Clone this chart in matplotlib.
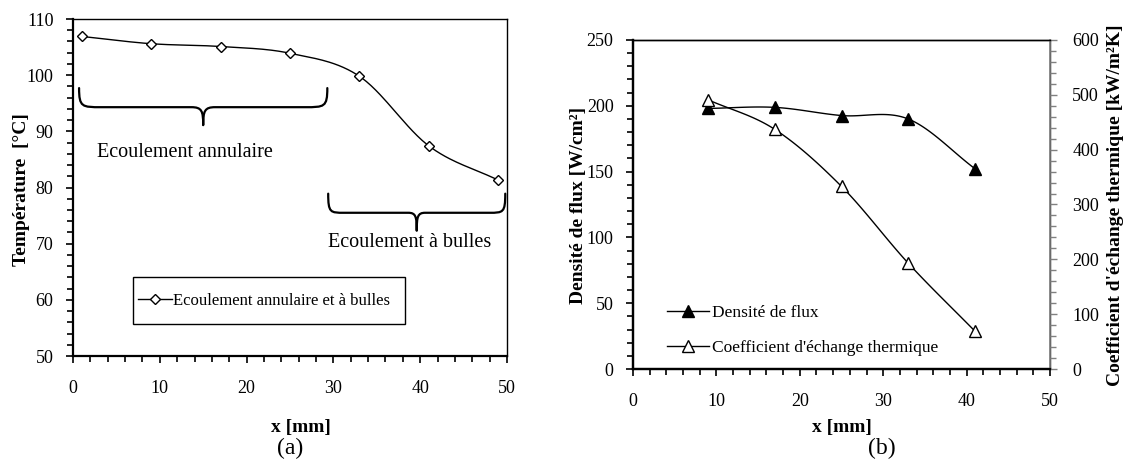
import numpy as np
import matplotlib
matplotlib.use("Agg")
import matplotlib.pyplot as plt
from matplotlib.path import Path
from matplotlib.patches import PathPatch, Rectangle
from matplotlib.ticker import MultipleLocator

plt.rcParams['font.family'] = ['Liberation Serif', 'DejaVu Serif']

# ---- data ----
x_temp = [1, 9, 17, 25, 33, 41, 49]
temperature = [106.9, 105.6, 105.1, 103.9, 99.8, 87.4, 81.3]

x_flux = [9, 17, 25, 33, 41]
flux_density = [198.0, 198.8, 192.6, 190.0, 152.2]
htc = [491, 437, 333, 193, 69]

label_temp = "Ecoulement annulaire et à bulles"
label_flux = "Densité de flux"
label_htc = "Coefficient d'échange thermique"


def smooth(x, y, n=30):
    """Catmull-Rom style smoothing of a polyline (like spreadsheet 'smoothed line')."""
    x = np.asarray(x, float)
    y = np.asarray(y, float)
    P = np.column_stack([x, y])
    P = np.vstack([P[0] - (P[1] - P[0]), P, P[-1] + (P[-1] - P[-2])])
    out = []
    t = np.linspace(0, 1, n, endpoint=False)
    for i in range(1, len(P) - 2):
        p0, p1, p2, p3 = P[i - 1], P[i], P[i + 1], P[i + 2]
        m1 = (p2 - p0) / 6.0
        m2 = (p3 - p1) / 6.0
        b0, b1, b2, b3 = p1, p1 + m1, p2 - m2, p2
        tt = t[:, None]
        seg = ((1 - tt) ** 3) * b0 + 3 * ((1 - tt) ** 2) * tt * b1 + 3 * (1 - tt) * tt ** 2 * b2 + tt ** 3 * b3
        out.append(seg)
    out.append(P[-2][None, :])
    out = np.vstack(out)
    return out[:, 0], out[:, 1]


def brace(ax, x0, x1, ytop, ymid, ytip):
    xm = (x0 + x1) / 2.0
    w = (x1 - x0)
    dx = w * 0.06
    verts = [
        (x0, ytop),
        (x0, ymid), (x0 + dx * 0.2, ymid), (x0 + dx * 1.5, ymid),
        (xm - dx * 0.8, ymid),
        (xm - dx * 0.1, ymid), (xm, ymid - (ymid - ytip) * 0.2), (xm, ytip),
        (xm, ymid - (ymid - ytip) * 0.2), (xm + dx * 0.1, ymid), (xm + dx * 0.8, ymid),
        (x1 - dx * 1.5, ymid),
        (x1 - dx * 0.2, ymid), (x1, ymid), (x1, ytop),
    ]
    codes = [Path.MOVETO,
             Path.CURVE4, Path.CURVE4, Path.CURVE4,
             Path.LINETO,
             Path.CURVE4, Path.CURVE4, Path.CURVE4,
             Path.CURVE4, Path.CURVE4, Path.CURVE4,
             Path.LINETO,
             Path.CURVE4, Path.CURVE4, Path.CURVE4]
    ax.add_patch(PathPatch(Path(verts, codes), fill=False, lw=1.6, ec='black',
                           capstyle='round', joinstyle='round'))


W, H = 1128, 465
fig = plt.figure(figsize=(W / 100, H / 100), dpi=100)

TICK_FS = 13
LABEL_FS = 14


def style_axis(ax, ymaj, ymin):
    ax.set_xlim(0, 50)
    ax.xaxis.set_major_locator(MultipleLocator(10))
    ax.xaxis.set_minor_locator(MultipleLocator(2))
    ax.yaxis.set_major_locator(MultipleLocator(ymaj))
    ax.yaxis.set_minor_locator(MultipleLocator(ymin))
    ax.tick_params(which='both', direction='out', labelsize=TICK_FS, width=1.2)
    ax.tick_params(which='major', length=5)
    ax.tick_params(which='minor', length=4)
    ax.tick_params(axis='x', pad=12)
    ax.tick_params(axis='y', pad=9)
    for s in ['left', 'bottom']:
        ax.spines[s].set_linewidth(1.6)
    for s in ['top', 'right']:
        ax.spines[s].set_linewidth(1.0)


# ---------------- (a) ----------------
ax1 = fig.add_axes([73 / W, 1 - 356 / H, (507 - 73) / W, (356 - 19) / H])
sx, sy = smooth(x_temp, temperature)
ax1.plot(sx, sy, color='black', lw=1.0)
ax1.plot(x_temp, temperature, linestyle='none', marker='D', ms=5.5, mfc='white',
         mec='black', mew=1.0)
ax1.plot([], [], color='black', lw=1.0, marker='D', ms=5.5, mfc='white', mec='black',
         mew=1.0, label=label_temp)
ax1.set_ylim(50, 110)
style_axis(ax1, 10, 2)
ax1.set_ylabel('Température  [°C]', fontsize=LABEL_FS, fontweight='bold', va='center')
ax1.yaxis.set_label_coords(22 / W, 1 - 190 / H, transform=fig.transFigure)
ax1.set_xlabel('x [mm]', fontsize=LABEL_FS, fontweight='bold', va='center')
ax1.xaxis.set_label_coords(301 / W, 1 - 427 / H, transform=fig.transFigure)
brace(ax1, 0.7, 29.3, 97.7, 94.3, 91.1)
ax1.text(12.9, 86.3, 'Ecoulement annulaire', fontsize=14.5, ha='center', va='center')
brace(ax1, 29.4, 49.8, 78.9, 75.5, 72.3)
ax1.text(38.8, 70.2, 'Ecoulement à bulles', fontsize=14.5, ha='center', va='center')
# legend box
ax1.add_patch(Rectangle((0.138, 0.095), 0.627, 0.139, transform=ax1.transAxes,
                        fill=False, ec='black', lw=1.0, zorder=4))
ax1.legend(loc='center left', bbox_to_anchor=(0.143, 0.1645), frameon=False,
           fontsize=12, handlelength=2.0, handletextpad=0.1, borderpad=0.2,
           borderaxespad=0)
fig.text(290 / W, 1 - 448 / H, '(a)', fontsize=17, ha='center', va='center')

# ---------------- (b) ----------------
ax2 = fig.add_axes([633 / W, 1 - 369 / H, (1050 - 633) / W, (369 - 40) / H])
ax3 = ax2.twinx()
fx, fy = smooth(x_flux, flux_density)
ax2.plot(fx, fy, color='black', lw=1.0)
ax2.plot(x_flux, flux_density, linestyle='none', marker='^', ms=8, mfc='black', mec='black')
hx, hy = smooth(x_flux, htc)
ax3.plot(hx, hy, color='black', lw=1.0)
ax3.plot(x_flux, htc, linestyle='none', marker='^', ms=8, mfc='white', mec='black', mew=1.0)
h1, = ax2.plot([], [], color='black', lw=1.0, marker='^', ms=8, mfc='black', mec='black')
h2, = ax2.plot([], [], color='black', lw=1.0, marker='^', ms=8, mfc='white', mec='black')
ax2.set_ylim(0, 250)
ax3.set_ylim(0, 600)
style_axis(ax2, 50, 10)
ax3.yaxis.set_major_locator(MultipleLocator(100))
ax3.yaxis.set_minor_locator(MultipleLocator(20))
ax3.tick_params(which='both', direction='out', labelsize=TICK_FS, width=1.0, color='#808080')
ax3.tick_params(which='major', length=5, pad=11)
ax3.tick_params(which='minor', length=4)
ax3.spines['top'].set_linewidth(1.0)
ax3.spines['left'].set_linewidth(1.6)
ax3.spines['bottom'].set_linewidth(1.6)
ax3.spines['right'].set_linewidth(1.2)
ax3.spines['right'].set_color('#808080')
ax2.set_ylabel('Densité de flux [W/cm²]', fontsize=LABEL_FS, fontweight='bold', va='center')
ax2.yaxis.set_label_coords(578 / W, 1 - 205 / H, transform=fig.transFigure)
ax3.set_ylabel('Coefficient d\'échange thermique [kW/m²K]', fontsize=LABEL_FS,
               fontweight='bold', va='center')
ax3.yaxis.set_label_coords(1116 / W, 1 - 205 / H, transform=fig.transFigure)
ax2.set_xlabel('x [mm]', fontsize=LABEL_FS, fontweight='bold', va='center')
ax2.xaxis.set_label_coords(842 / W, 1 - 427 / H, transform=fig.transFigure)
ax2.legend([h1, h2], [label_flux, label_htc], loc='lower left',
           bbox_to_anchor=(0.065, 0.019, 0.0, 0.0), frameon=False, fontsize=12.5,
           handlelength=2.4, handletextpad=0.2, labelspacing=1.05, borderaxespad=0)
fig.text(882 / W, 1 - 448 / H, '(b)', fontsize=17, ha='center', va='center')

fig.savefig('out.png', dpi=100)
